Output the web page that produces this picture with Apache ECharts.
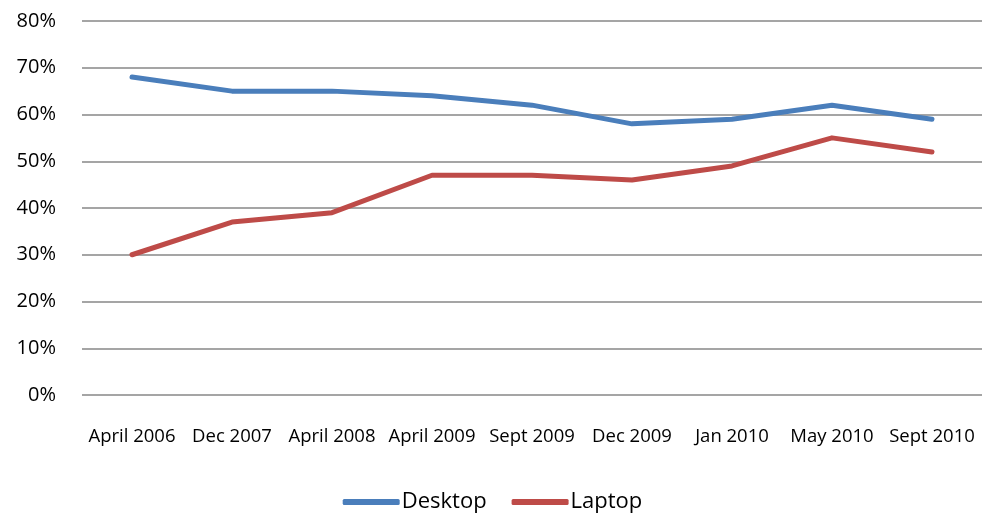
<!DOCTYPE html>
<html>
<head>
<meta charset="utf-8">
<script src="https://cdn.jsdelivr.net/npm/echarts@6/dist/echarts.min.js"></script>
<style>
  html, body {margin: 0; padding: 0; background: #fff;}
  #chart {width: 985px; height: 514px;}
</style>
</head>
<body>
<div id="chart"></div>
<script>
const categories = ['April 2006', 'Dec 2007', 'April 2008', 'April 2009', 'Sept 2009',
  'Dec 2009', 'Jan 2010', 'May 2010', 'Sept 2010'];
const desktop = [68, 65, 65, 64, 62, 58, 59, 62, 59];
const laptop = [30, 37, 39, 47, 47, 46, 49, 55, 52];

const font = "'Open Sans', sans-serif";

const myChart = echarts.init(document.getElementById('chart'));
myChart.setOption({
  animation: false,
  grid: {left: 82, right: 3, top: 21, bottom: 119},
  xAxis: {
    type: 'category',
    data: categories,
    boundaryGap: true,
    axisTick: {show: false},
    axisLine: {show: false},
    axisLabel: {color: '#000', fontFamily: font, fontSize: 18.5, margin: 32, interval: 0}
  },
  yAxis: {
    type: 'value',
    min: 0,
    max: 80,
    interval: 10,
    axisLine: {show: false},
    axisTick: {show: false},
    splitLine: {lineStyle: {color: '#878787', width: 1.5}},
    axisLabel: {
      color: '#000', fontFamily: font, fontSize: 20, margin: 26,
      formatter: v => v + '%'
    }
  },
  legend: {
    bottom: -4,
    left: 'center',
    itemWidth: 57,
    itemHeight: 6,
    itemGap: 25,
    icon: 'roundRect',
    textStyle: {color: '#000', fontFamily: font, fontSize: 22, padding: [0, 0, 0, -3]},
    data: ['Desktop', 'Laptop']
  },
  series: [
    {
      name: 'Desktop', type: 'line', data: desktop, symbol: 'none',
      itemStyle: {color: '#4a7ebb'},
      lineStyle: {color: '#4a7ebb', width: 5, cap: 'round', join: 'round'}
    },
    {
      name: 'Laptop', type: 'line', data: laptop, symbol: 'none',
      itemStyle: {color: '#be4b48'},
      lineStyle: {color: '#be4b48', width: 5, cap: 'round', join: 'round'}
    }
  ]
});
</script>
</body>
</html>
